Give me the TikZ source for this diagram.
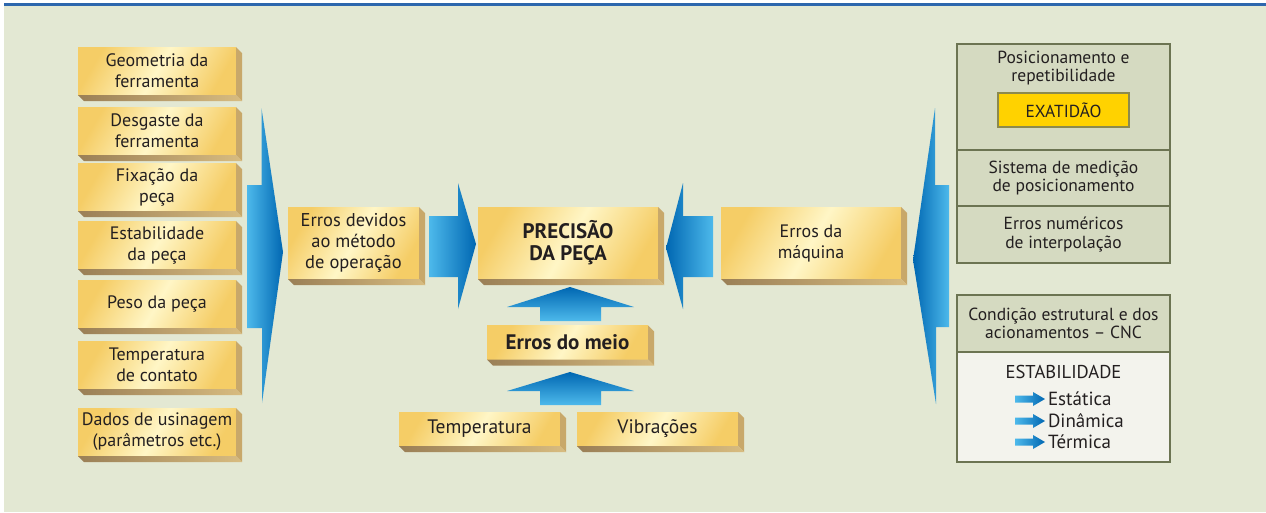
\documentclass[tikz,border=0pt]{standalone}
\usepackage{fontspec}
\setmainfont{PT Sans}
\usetikzlibrary{calc,shapes,positioning}

\definecolor{bgcol}{HTML}{E3E8D3}
\definecolor{topline}{HTML}{2D67AD}
\definecolor{goldA}{HTML}{F5CD66}
\definecolor{goldB}{HTML}{FFF6C6}
\definecolor{bevelR}{HTML}{C8A86A}
\definecolor{bevelL}{HTML}{9A7F56}
\definecolor{bevelM}{HTML}{D8BC80}
\definecolor{blueL}{HTML}{4DB9EB}
\definecolor{blueD}{HTML}{0067B2}
\definecolor{olive}{HTML}{6C7452}
\definecolor{panelA}{HTML}{D5DAC1}
\definecolor{panelB}{HTML}{F3F3ED}
\definecolor{exat}{HTML}{FFD200}
\definecolor{exatline}{HTML}{8C8A4E}
\definecolor{ink}{HTML}{231F20}

% bevel of a gold box
\newcommand\bevel[1]{
  \fill[bevelR] (#1.north east) -- ++(6,6) -- ($(#1.south east)+(6,6)$) -- (#1.south east) -- cycle;
  \shade[left color=bevelL, right color=bevelM] (#1.south west) -- (#1.south east) -- ++(6,6) -- ($(#1.south west)+(6,6)$) -- cycle;
}

\begin{document}
\begin{tikzpicture}[x=1pt, y=-1pt,
    every node/.style={inner sep=0pt, outer sep=0pt, text=ink},
    goldbox/.style={left color=goldA, right color=goldA, middle color=goldB, shading angle=60,
      align=center, font=\fontsize{18}{21}\selectfont},
    leftbox/.style={goldbox, minimum width=158pt, minimum height=48pt},
    bigbox/.style={goldbox, minimum width=180pt, minimum height=72pt},
    lowbox/.style={goldbox, minimum width=161pt, minimum height=34pt, font=\fontsize{19.5}{21}\selectfont},
    panel/.style={draw=olive, line width=2.5pt, minimum width=213pt, align=center,
      font=\fontsize{17.5}{18.5}\selectfont},
    item/.style={anchor=west, font=\fontsize{19}{21}\selectfont},
    blueright/.style={left color=blueL, right color=blueD},
    blueleft/.style={left color=blueD, right color=blueL},
    blueup/.style={top color=blueD, bottom color=blueL}]

  \useasboundingbox (0,0) rectangle (1266,512);
  \fill[white] (0,0) rectangle (1266,512);
  \fill[bgcol] (4,6) rectangle (1266,512);
  \fill[topline] (4,3) rectangle (1266,6);

  % left column
  \node[leftbox] (geo) at (157,71) {Geometria da\\ferramenta};
  \node[leftbox] (desg) at (157,131) {Desgaste da\\ferramenta};
  \node[leftbox] (fix) at (157,187) {Fixação da\\peça};
  \node[leftbox] (estab) at (157,245) {Estabilidade\\da peça};
  \node[leftbox] (peso) at (157,304) {Peso da peça};
  \node[leftbox] (tcont) at (157,365) {Temperatura\\de contato};
  \node[leftbox] (dados) at (157,432) {Dados de usinagem\\(parâmetros etc.)};

  % middle
  \node[goldbox, minimum width=131pt, minimum height=72pt, font=\fontsize{18.5}{21}\selectfont] (metodo) at (353.5,243) {Erros devidos\\ao método\\de operação};
  \node[bigbox, font=\fontsize{21}{22}\bfseries\selectfont] (prec) at (568,243) {PRECISÃO\\DA PEÇA};
  \node[bigbox] (maq) at (811,243) {Erros da\\máquina};
  \node[lowbox, font=\fontsize{21}{22}\bfseries\selectfont] (meio) at (567.5,342.5) {Erros do meio};
  \node[lowbox] (temp) at (479.5,429) {Temperatura};
  \node[lowbox] (vib) at (657.5,429) {Vibrações};

  \foreach \n in {geo,desg,fix,estab,peso,tcont,dados,metodo,prec,maq,meio,temp,vib}
    {\bevel{\n}}

  % blue arrows
  \shade[blueright] (247,185) -- (261.5,185) -- (261.5,108) -- (283,252) -- (262,403) -- (262,328) -- (247,328) -- cycle;
  \shade[blueright] (429,216) -- (458,216) -- (458,183) -- (476,244) -- (458,309) -- (458,277) -- (429,277) -- cycle;
  \shade[blueleft] (713,216) -- (683,216) -- (683,183) -- (666,248) -- (683,309) -- (683,277) -- (713,277) -- cycle;
  \shade[blueleft] (949,185) -- (935,185) -- (935,108) -- (913,260) -- (936,404) -- (936,327) -- (949,327) -- cycle;
  \shade[blueup] (540,321) -- (540,307) -- (507,307) -- (570,287) -- (634,307) -- (601,307) -- (601,321) -- cycle;
  \shade[blueup] (540,405) -- (540,391) -- (507,391) -- (570,372) -- (634,391) -- (601,391) -- (601,405) -- cycle;

  % machine panel
  \node[panel, fill=panelA, minimum height=106pt] (posi) at (1063.5,97) {};
  \node[panel, fill=panelA, minimum height=56pt] (medi) at (1063.5,178) {Sistema de medição\\de posicionamento};
  \node[panel, fill=panelA, minimum height=57pt] (inter) at (1063.5,234.5) {Erros numéricos\\de interpolação};
  \node[align=center, font=\fontsize{17.5}{18.5}\selectfont] (posit) at (1063.5,68) {Posicionamento e\\repetibilidade};
  \node[draw=exatline, line width=1.5pt, fill=exat, minimum width=131pt, minimum height=34pt,
    font=\fontsize{17.4}{18}\selectfont] (exatid) at (1063.5,110) {EXATIDÃO};

  % structure panel
  \node[panel, fill=panelA, minimum height=57pt] (cond) at (1063.5,323.5) {Condição estrutural e dos\\acionamentos -- CNC};
  \node[panel, fill=panelB, minimum height=110pt] (stab) at (1063.5,407) {};
  \node[font=\fontsize{18.6}{21}\selectfont] (stabt) at (1063.5,372) {ESTABILIDADE};
  \node[item] (sta) at (1048,399) {Estática};
  \node[item] (din) at (1048,421) {Dinâmica};
  \node[item] (ter) at (1048,442) {Térmica};
  \foreach \n in {sta,din,ter}
    \shade[blueright] ($(\n.west)+(-33,-3.5)$) -- ++(18,0) -- ++(0,-3.5) -- ($(\n.west)+(-3,0)$)
      -- ($(\n.west)+(-15,7)$) -- ++(0,-3.5) -- ++(-18,0) -- cycle;
\end{tikzpicture}
\end{document}
